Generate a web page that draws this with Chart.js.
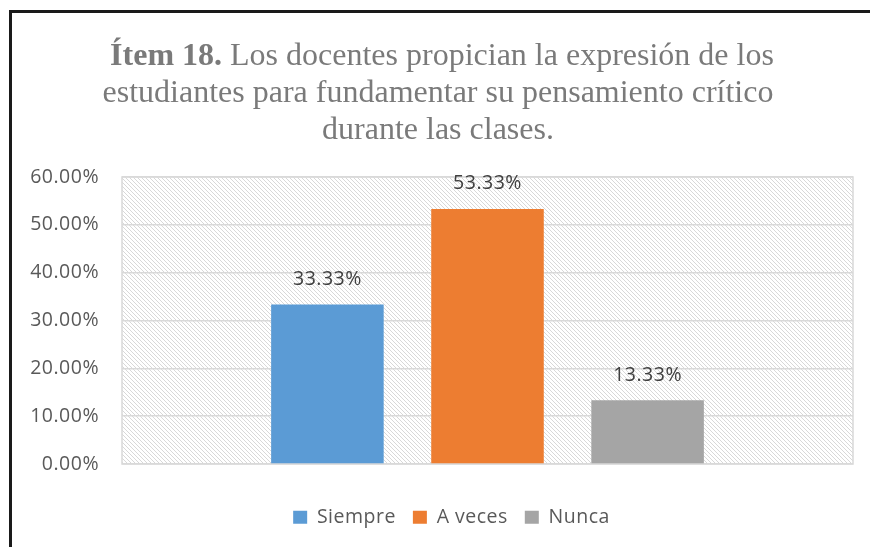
<!DOCTYPE html>
<html><head><meta charset="utf-8">
<script src="https://cdn.jsdelivr.net/npm/chart.js@4/dist/chart.umd.min.js"></script>
<style>html,body{margin:0;padding:0;background:#fff;overflow:hidden}#wrap{width:870px;height:547px;position:relative}</style>
</head><body><div id="wrap"><canvas id="c" width="870" height="547"></canvas></div>
<script>
const categories = [''];
const seriesNames = ['Siempre', 'A veces', 'Nunca'];
const siempre = [33.33];
const aVeces = [53.33];
const nunca = [13.33];
const seriesColors = ['#5b9bd5', '#ed7d31', '#a5a5a5'];
const yTicks = [0, 10, 20, 30, 40, 50, 60];
const titleBold = 'Ítem 18.';
const titleRest = ' Los docentes propician la expresión de los';
const titleLines = ['estudiantes para fundamentar su pensamiento crítico', 'durante las clases.'];

const SANS = '"Open Sans", "Noto Sans", sans-serif';
const LS = '0.5px';
const FS = 19.5;

function makePattern(ctx) {
  const p = document.createElement('canvas');
  p.width = 4; p.height = 4;
  const pc = p.getContext('2d');
  pc.fillStyle = '#ffffff';
  pc.fillRect(0, 0, 4, 4);
  pc.fillStyle = '#d8d8d8';
  for (let i = 0; i < 4; i++) pc.fillRect(i, i, 1, 1);
  return ctx.createPattern(p, 'repeat');
}

const decor = {
  id: 'decor',
  beforeUpdate(chart) { chart.ctx.letterSpacing = LS; },
  afterLayout(chart) {
    const L = chart.legend;
    if (L) { L.left += 25; L.right += 25; }
  },
  beforeDraw(chart) {
    const ctx = chart.ctx, a = chart.chartArea;
    ctx.letterSpacing = LS;
    ctx.save();
    ctx.fillStyle = '#ffffff';
    ctx.fillRect(0, 0, chart.width, chart.height);
    ctx.fillStyle = makePattern(ctx);
    ctx.fillRect(a.left, a.top, a.right - a.left, a.bottom - a.top);
    ctx.restore();
  },
  beforeDatasetsDraw(chart) {
    const ctx = chart.ctx, a = chart.chartArea;
    ctx.save();
    ctx.strokeStyle = '#d9d9d9';
    ctx.lineWidth = 1.5;
    ctx.strokeRect(a.left, a.top, a.right - a.left, a.bottom - a.top);
    ctx.restore();
  },
  afterDatasetsDraw(chart) {
    const ctx = chart.ctx;
    ctx.save();
    ctx.letterSpacing = LS;
    ctx.font = FS + 'px ' + SANS;
    ctx.fillStyle = '#404040';
    ctx.textAlign = 'center';
    ctx.textBaseline = 'middle';
    chart.data.datasets.forEach((ds, i) => {
      const meta = chart.getDatasetMeta(i);
      meta.data.forEach((bar, j) => {
        ctx.fillText(ds.data[j].toFixed(2) + '%', bar.x, bar.y - 25);
      });
    });
    ctx.restore();
  },
  afterDraw(chart) {
    const ctx = chart.ctx;
    ctx.save();
    ctx.letterSpacing = '0px';
    ctx.fillStyle = '#7a7a7a';
    ctx.textBaseline = 'alphabetic';
    ctx.textAlign = 'left';
    const cx = 438;
    const boldFont = 'bold 32px "Liberation Serif", "Times New Roman", serif';
    const normFont = '32px "Liberation Serif", "Times New Roman", serif';
    ctx.font = boldFont;
    const wb = ctx.measureText(titleBold).width;
    ctx.font = normFont;
    const wr = ctx.measureText(titleRest).width;
    let x = cx + 4 - (wb + wr) / 2;
    ctx.font = boldFont;
    ctx.fillText(titleBold, x, 65);
    ctx.font = normFont;
    ctx.fillText(titleRest, x + wb, 65);
    ctx.textAlign = 'center';
    ctx.fillText(titleLines[0], cx, 102);
    ctx.fillText(titleLines[1], cx, 139);
    ctx.strokeStyle = '#1a1a1a';
    ctx.lineWidth = 3;
    ctx.beginPath();
    ctx.moveTo(10.5, 560);
    ctx.lineTo(10.5, 11.5);
    ctx.lineTo(880, 11.5);
    ctx.stroke();
    ctx.restore();
  }
};

const datasets = [siempre, aVeces, nunca].map((d, i) => ({
  label: seriesNames[i],
  data: d,
  backgroundColor: seriesColors[i],
  borderWidth: 0,
  categoryPercentage: 0.657,
  barPercentage: 0.703
}));

new Chart(document.getElementById('c'), {
  type: 'bar',
  data: { labels: categories, datasets },
  plugins: [decor],
  options: {
    responsive: false,
    devicePixelRatio: 1,
    animation: false,
    layout: { padding: { top: 177, right: 17, bottom: 10, left: 0 } },
    plugins: {
      title: { display: false },
      tooltip: { enabled: false },
      legend: {
        position: 'bottom',
        labels: {
          boxWidth: 14,
          boxHeight: 13,
          padding: 17,
          color: '#595959',
          font: { family: SANS, size: FS }
        }
      }
    },
    scales: {
      x: {
        display: true,
        grid: { display: false, drawTicks: false },
        border: { display: false },
        ticks: { display: false },
        afterFit(s) { s.height = 26.5; }
      },
      y: {
        min: 0,
        max: 60,
        afterBuildTicks(s) { s.ticks = yTicks.map(v => ({ value: v })); },
        grid: { color: '#d9d9d9', lineWidth: 1.5, drawTicks: false },
        border: { display: false },
        ticks: {
          padding: 23,
          color: '#595959',
          font: { family: SANS, size: FS },
          callback: v => Number(v).toFixed(2) + '%'
        },
        afterFit(s) { s.width = 122; }
      }
    }
  }
});
</script>
</body></html>
